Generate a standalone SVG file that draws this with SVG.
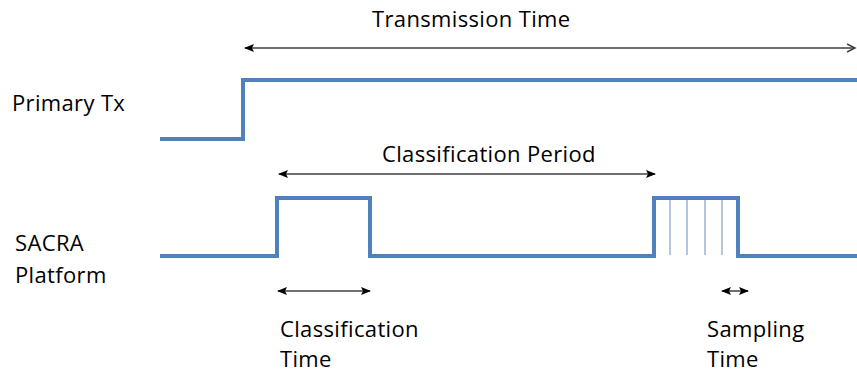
<svg xmlns="http://www.w3.org/2000/svg" width="857" height="373" viewBox="0 0 857 373">
  <style>
    .lbl { font-family: "Open Sans", "Liberation Sans", sans-serif; font-size: 22px; letter-spacing: 0.35px; fill: #000; }
    .sig { fill: none; stroke: #4F81BD; stroke-width: 4; stroke-linejoin: miter; }
    .tick { stroke: #7FA1CF; stroke-width: 1.2; }
    .dim { stroke: #404040; stroke-width: 1.5; fill: none; }
  </style>
  <defs>
    <marker id="head" viewBox="0 0 10 8" refX="9" refY="4" markerWidth="10" markerHeight="8" markerUnits="userSpaceOnUse" orient="auto-start-reverse">
      <path d="M0,0 L10,4 L0,8 L2,4 Z" fill="#000"/>
    </marker>
  </defs>

  <!-- signal labels -->
  <g id="label-primary">
    <text class="lbl" x="12" y="111">Primary Tx</text>
  </g>
  <g id="label-sacra">
    <text class="lbl" x="15" y="251">SACRA</text>
    <text class="lbl" x="15" y="283">Platform</text>
  </g>

  <!-- primary transmitter waveform -->
  <g id="primary-tx">
    <path class="sig" d="M160,139 H243 V80 H857"/>
  </g>

  <!-- SACRA platform waveform -->
  <g id="sacra-platform">
    <path class="sig" d="M160,256 H277 V198 H370 V256 H654 V198 H738 V256 H857"/>
    <g id="sampling-ticks">
      <line class="tick" x1="670" y1="200" x2="670" y2="255"/>
      <line class="tick" x1="687" y1="200" x2="687" y2="255"/>
      <line class="tick" x1="705" y1="200" x2="705" y2="255"/>
      <line class="tick" x1="722" y1="200" x2="722" y2="255"/>
    </g>
  </g>

  <!-- timing annotations -->
  <g id="connectors">
    <line class="dim" x1="245" y1="48" x2="855" y2="48" marker-start="url(#head)"/>
    <path class="dim" d="M847,44 L855,48 L847,52"/>
    <line class="dim" x1="279" y1="174" x2="655" y2="174" marker-start="url(#head)" marker-end="url(#head)"/>
    <line class="dim" x1="278" y1="291" x2="370" y2="291" marker-start="url(#head)" marker-end="url(#head)"/>
    <line class="dim" x1="722" y1="291" x2="748" y2="291" marker-start="url(#head)" marker-end="url(#head)"/>
  </g>

  <g id="label-transmission">
    <text class="lbl" x="372" y="27">Transmission Time</text>
  </g>
  <g id="label-period">
    <text class="lbl" x="382" y="162">Classification Period</text>
  </g>
  <g id="label-classification">
    <text class="lbl" x="280" y="337">Classification</text>
    <text class="lbl" x="280" y="367">Time</text>
  </g>
  <g id="label-sampling">
    <text class="lbl" x="707" y="337">Sampling</text>
    <text class="lbl" x="707" y="367">Time</text>
  </g>
</svg>
